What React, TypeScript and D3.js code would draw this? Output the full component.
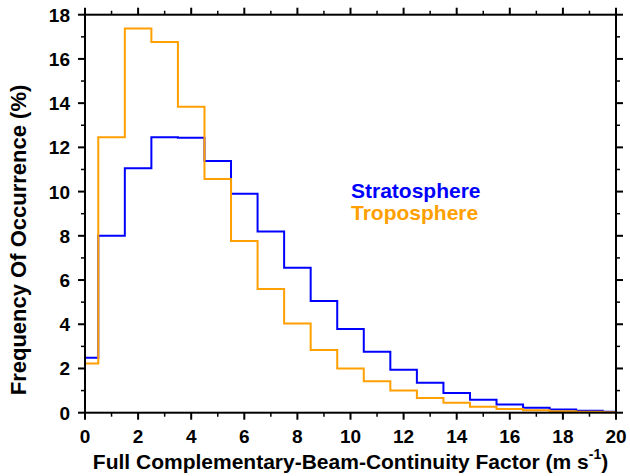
import React from "react";
import * as d3 from "d3";

const binCenters = [0,1,2,3,4,5,6,7,8,9,10,11,12,13,14,15,16,17,18,19,20];
const stratosphere = [2.49,8.0,11.06,12.46,12.43,11.38,9.9,8.2,6.55,5.05,3.79,2.76,1.94,1.36,0.89,0.59,0.37,0.22,0.14,0.09,0.04];
const troposphere = [2.23,12.46,17.38,16.76,13.84,10.57,7.77,5.6,4.03,2.84,2.0,1.42,1.0,0.67,0.45,0.27,0.17,0.11,0.06,0.04,0.02];
const xTicks = [0,2,4,6,8,10,12,14,16,18,20];
const yTicks = [0,2,4,6,8,10,12,14,16,18];

const W = 630, H = 476;
const M = { left: 85, right: 616, top: 14.7, bottom: 412.7 };

export default function App() {
  const x = d3.scaleLinear().domain([0, 20]).range([M.left, M.right]);
  const y = d3.scaleLinear().domain([0, 18]).range([M.bottom, M.top]);

  const stepPath = (vals: number[]) => {
    const pts: [number, number][] = [];
    binCenters.forEach((c, i) => {
      const x0 = Math.max(0, c - 0.5);
      const x1 = Math.min(20, c + 0.5);
      pts.push([x(x0), y(vals[i])]);
      pts.push([x(x1), y(vals[i])]);
    });
    return d3.line()(pts) as string;
  };

  const minorX = d3.range(0, 21, 1);
  const minorY = d3.range(0, 19, 1);
  const font = "'Liberation Sans', Arial, Helvetica, sans-serif";

  return (
    <svg width={W} height={H} style={{ position: "absolute", left: 0, top: 0, background: "#fff" }} fontFamily={font}>
      <path d={stepPath(stratosphere)} fill="none" stroke="#0000FF" strokeWidth={2} />
      <path d={stepPath(troposphere)} fill="none" stroke="#FFA000" strokeWidth={2} />
      <rect x={M.left} y={M.top} width={M.right - M.left} height={M.bottom - M.top} fill="none" stroke="#000" strokeWidth={2} />
      {minorX.map((v) => {
        const major = v % 2 === 0;
        const len = major ? 7 : 4;
        return (
          <g key={"x" + v}>
            <line x1={x(v)} x2={x(v)} y1={M.bottom} y2={M.bottom + len} stroke="#000" strokeWidth={major ? 2 : 1.5} />
            <line x1={x(v)} x2={x(v)} y1={M.top} y2={M.top - len} stroke="#000" strokeWidth={major ? 2 : 1.5} />
          </g>
        );
      })}
      {minorY.map((v) => {
        const major = v % 2 === 0;
        const len = major ? 7 : 4;
        return (
          <g key={"y" + v}>
            <line x1={M.left} x2={M.left - len} y1={y(v)} y2={y(v)} stroke="#000" strokeWidth={major ? 2 : 1.5} />
            <line x1={M.right} x2={M.right + len} y1={y(v)} y2={y(v)} stroke="#000" strokeWidth={major ? 2 : 1.5} />
          </g>
        );
      })}
      {xTicks.map((v) => (
        <text key={"xl" + v} x={x(v)} y={443} textAnchor="middle" fontSize={19} fontWeight="bold">{v}</text>
      ))}
      {yTicks.map((v) => (
        <text key={"yl" + v} x={70} y={y(v) + 7} textAnchor="end" fontSize={19} fontWeight="bold">{v}</text>
      ))}
      <text x={350.5} y={469} textAnchor="middle" fontSize={21} fontWeight="bold">
        Full Complementary-Beam-Continuity Factor (m s<tspan dy={-10} fontSize={14}>-1</tspan><tspan dy={10}>)</tspan>
      </text>
      <text transform={`translate(26,240) rotate(-90)`} textAnchor="middle" fontSize={22} fontWeight="bold">
        Frequency Of Occurrence (%)
      </text>
      <text x={351} y={198} fontSize={21} fontWeight="bold" fill="#0000FF">Stratosphere</text>
      <text x={351} y={220} fontSize={21} fontWeight="bold" fill="#FFA000">Troposphere</text>
    </svg>
  );
}
